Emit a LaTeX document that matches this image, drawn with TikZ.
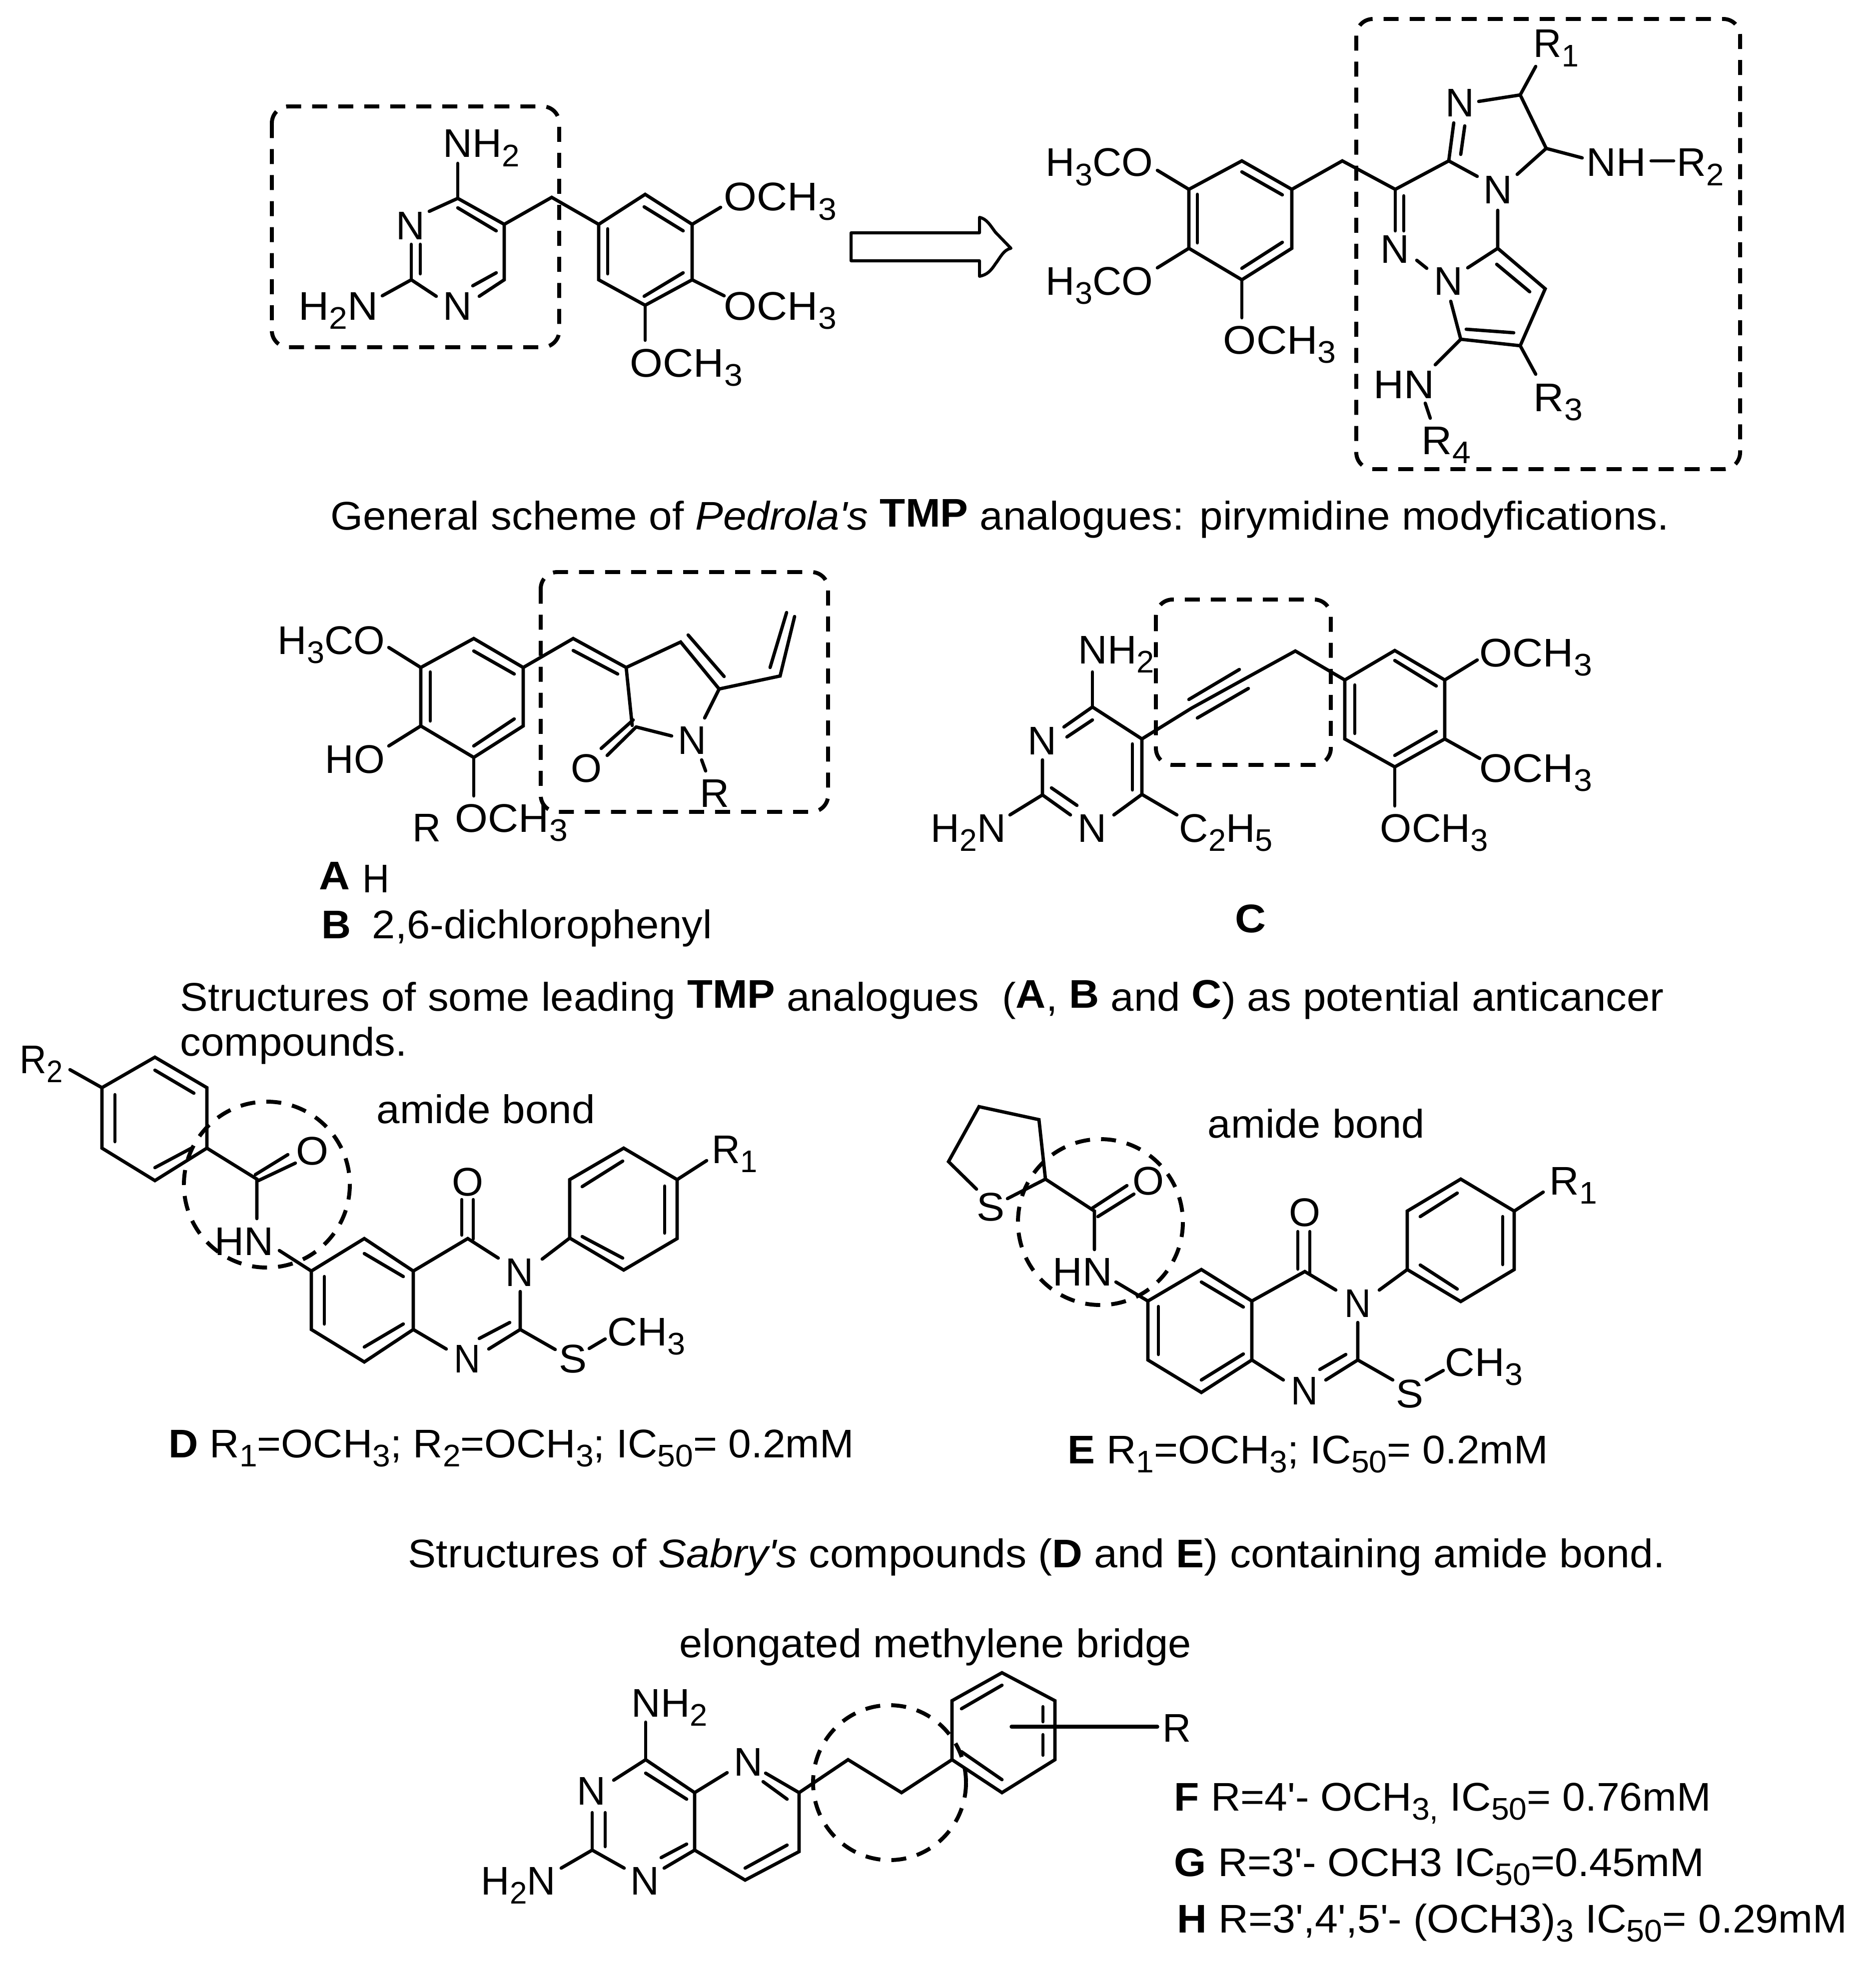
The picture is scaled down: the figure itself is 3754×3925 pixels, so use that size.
\documentclass[tikz,border=0pt]{standalone}
\usepackage{fontspec}
\usepackage{graphicx}
\setmainfont[Ligatures=TeXOff]{Liberation Sans}
\newsavebox\fwbox
\newcommand\fw[2]{\sbox\fwbox{#2}\pgfmathsetmacro\fwf{(#1)*0.24/\the\wd\fwbox}\scalebox{\fwf}[1]{\usebox\fwbox}}
\newcommand\sbs[1]{\raisebox{-4.5pt}{\fontsize{15}{15}\selectfont #1}}
\newcommand\up[1]{\raisebox{1.4pt}{\textbf{#1}}}
% name, left ink x, baseline y, ink width, text
\newcommand\lab[5]{\node[lb] (#1) at ({#2-5},{#3}) {\fw{#4+10}{#5}};}
% name, centre x, baseline y, text
\newcommand\clab[4]{\node[clb] (#1) at (#2,#3) {#4};}
\tikzset{
  lb/.style={anchor=base west,inner sep=0pt,font=\fontsize{19.2}{22}\selectfont},
  clb/.style={anchor=base,inner sep=0pt,font=\fontsize{19.2}{22}\selectfont},
  bond/.style={line width=1.6pt,line cap=round,line join=miter,draw=black},
  dbox/.style={line width=1.9pt,draw=black,dash pattern=on 7.2pt off 5.3pt,rounded corners=8pt},
  dring/.style={line width=1.9pt,draw=black,dash pattern=on 7.2pt off 5.3pt},
  hollow/.style={line width=1.45pt,draw=black,fill=white,line join=round}
}
\begin{document}
\begin{tikzpicture}[x=0.24pt,y=-0.24pt]
\useasboundingbox (0,0) rectangle (3754,3925);
\fill[white] (0,0) rectangle (3754,3925);

%% ---------- Molecule 1 (trimethoprim)
\foreach \n/\x/\y in {Tc4/916/397,Tc5/1009/449,Tc6/1009/560,Tc2/823/560,Tm/1104/395,Tr1/1198/449,Tr2/1291/389,Tr3/1385/449,Tr4/1385/560,Tr5/1291/611,Tr6/1198/560}
  \coordinate (\n) at (\x,\y);
\lab{Tnh}{891}{315}{143}{NH\sbs{2}}
\clab{Tn3}{821}{479}{N}
\clab{Tn1}{915}{640}{N}
\lab{Th2n}{602}{640}{149}{H\sbs{2}N}
\lab{To1}{1453}{422}{215}{OCH\sbs{3}}
\lab{To2}{1453}{640}{215}{OCH\sbs{3}}
\lab{To3}{1265}{754}{215}{OCH\sbs{3}}
\draw[bond] (Tc4)--(916,327);
\draw[bond] (Tc4)--(859,423);
\draw[bond] (Tc4)--(Tc5)--(Tc6)--(959,593);
\draw[bond] (916,416)--(993,462);
\draw[bond] (993,546)--(946,572);
\draw[bond] (Tc2)--(873,593);
\draw[bond] (Tc2)--(823,489);
\draw[bond] (841,548)--(841,489);
\draw[bond] (Tc2)--(765,592);
\draw[bond] (Tr1)--(Tr2)--(Tr3)--(Tr4)--(Tr5)--(Tr6)--cycle;
\draw[bond] (Tc5)--(Tm)--(Tr1);
\draw[bond] (1216,458)--(1216,548);
\draw[bond] (1289,414)--(1367,462);
\draw[bond] (1367,546)--(1289,593);
\draw[bond] (Tr3)--(1442,415);
\draw[bond] (Tr4)--(1449,592);
\draw[bond] (Tr5)--(1291,681);
\draw[dbox] (544,213) rectangle (1119,695);

%% ---------- Block arrow
\draw[hollow] (1703,466)--(1960,466)--(1960,435) .. controls (1975,438) and (1982,452) .. (1992,465)--(2023,497) .. controls (2008,500) and (2002,515) .. (1992,528) .. controls (1982,543) and (1975,550) .. (1960,553)--(1960,522)--(1703,522)--cycle;

%% ---------- Molecule 2 (Pedrola)
\foreach \n/\x/\y in {Pr1/2379/379,Pr2/2485/322,Pr3/2585/379,Pr4/2585/497,Pr5/2485/560,Pr6/2379/497,Pm/2686/322,Pc/2792/379,Pd/2899/322,Pe/3042/190,Pf/3094/297,Pg/2997/497,Ph/3092/578,Pi/3042/692,Pj/2923/679}
  \coordinate (\n) at (\x,\y);
\lab{Po1}{2097}{353}{204}{H\sbs{3}CO}
\lab{Po2}{2097}{590}{204}{H\sbs{3}CO}
\lab{Po3}{2452}{708}{216}{OCH\sbs{3}}
\clab{Pn1}{2791}{527}{N}
\clab{Pn2}{2898}{590}{N}
\clab{Pn3}{2921}{234}{N}
\clab{Pn4}{2997}{408}{N}
\lab{Pr1l}{3073}{115}{80}{R\sbs{1}}
\lab{Pnh}{3179}{353}{109}{NH}
\lab{Pr2l}{3360}{353}{84}{R\sbs{2}}
\lab{Phn}{2753}{797}{112}{HN}
\lab{Pr4l}{2849}{909}{88}{R\sbs{4}}
\lab{Pr3l}{3073}{823}{88}{R\sbs{3}}
\draw[bond] (Pr1)--(Pr2)--(Pr3)--(Pr4)--(Pr5)--(Pr6)--cycle;
\draw[bond] (2396,389)--(2396,486);
\draw[bond] (2485,344)--(2566,390);
\draw[bond] (2566,485)--(2485,537);
\draw[bond] (Pr1)--(2316,341);
\draw[bond] (Pr6)--(2316,536);
\draw[bond] (Pr5)--(2485,636);
\draw[bond] (Pr3)--(Pm)--(Pc)--(Pd);
\draw[bond] (Pc)--(2792,462);
\draw[bond] (2809,392)--(2809,462);
\draw[bond] (2835,521)--(2855,537);
\draw[bond] (Pd)--(2909,246);
\draw[bond] (2923,309)--(2931,252);
\draw[bond] (Pd)--(2956,353);
\draw[bond] (2959,203)--(Pe)--(Pf)--(3036,349);
\draw[bond] (Pe)--(3073,133);
\draw[bond] (Pf)--(3166,316);
\draw[bond] (3304,322)--(3349,322);
\draw[bond] (2997,421)--(Pg)--(Ph)--(Pi)--(Pj)--(2903,603);
\draw[bond] (Pg)--(2937,536);
\draw[bond] (2995,529)--(3061,584);
\draw[bond] (3029,666)--(2934,659);
\draw[bond] (Pj)--(2872,730);
\draw[bond] (2852,807)--(2862,837);
\draw[bond] (Pi)--(3073,749);
\draw[dbox] (2714,38) rectangle (3482,939);

%% ---------- Caption 1
\lab{cap1}{666}{1060}{2668}{General scheme of \textit{Pedrola's} \up{TMP} analogues: pirymidine modyfications.}

%% ---------- Molecule A/B
\foreach \n/\x/\y in {Ar1/842/1336,Ar2/948/1278,Ar3/1047/1336,Ar4/1047/1453,Ar5/948/1516,Ar6/842/1453,Am/1147/1278,Aa/1253/1336,Ab/1362/1285,Ac/1439/1379,Ad/1265/1452,Ae/1561/1353,Ax/1273/1455}
  \coordinate (\n) at (\x,\y);
\lab{Ao1}{560}{1309}{204}{H\sbs{3}CO}
\lab{Ao2}{655}{1547}{109}{HO}
\lab{Ao3}{915}{1665}{215}{OCH\sbs{3}}
\lab{Arl}{830}{1684}{47}{R}
\lab{Aoo}{1147}{1565}{52}{O}
\lab{Ann}{1361}{1509}{47}{N}
\lab{Arr}{1405}{1615}{49}{R}
\lab{la}{643}{1780}{52}{\textbf{A}}
\lab{lah}{730}{1786}{44}{H}
\lab{lb}{648}{1878}{49}{\textbf{B}}
\lab{lbn}{749}{1878}{670}{2,6-dichlorophenyl}
\draw[bond] (Ar1)--(Ar2)--(Ar3)--(Ar4)--(Ar5)--(Ar6)--cycle;
\draw[bond] (861,1345)--(861,1443);
\draw[bond] (948,1303)--(1029,1349);
\draw[bond] (1029,1439)--(948,1493);
\draw[bond] (Ar1)--(778,1296);
\draw[bond] (Ar6)--(778,1493);
\draw[bond] (Ar5)--(948,1593);
\draw[bond] (Ar3)--(Am)--(Aa)--(Ab)--(Ac);
\draw[bond] (1147,1302)--(1236,1349);
\draw[bond] (1377,1271)--(1449,1354);
\draw[bond] (Aa)--(Ad);
\draw[bond] (1267,1441)--(1203,1498);
\draw[bond] (Ax)--(1215,1512);
\draw[bond] (Ax)--(1344,1473);
\draw[bond] (Ac)--(1410,1437);
\draw[bond] (Ac)--(Ae)--(1590,1234);
\draw[bond] (1541,1336)--(1574,1226);
\draw[bond] (1404,1521)--(1412,1543);
\draw[dbox] (1082,1145) rectangle (1657,1625);

%% ---------- Molecule C
\foreach \n/\x/\y in {Cc4/2186/1415,Cc5/2285/1479,Cc6/2285/1590,Cc2/2086/1591,Ca/2385/1417,Cb/2492/1358,Cm/2592/1303,Cr1/2691/1361,Cr2/2791/1302,Cr3/2891/1361,Cr4/2891/1479,Cr5/2791/1535,Cr6/2691/1479}
  \coordinate (\n) at (\x,\y);
\lab{Cnh}{2162}{1328}{142}{NH\sbs{2}}
\clab{Cn3}{2085}{1510}{N}
\clab{Cn1}{2185}{1685}{N}
\lab{Ch2n}{1867}{1685}{140}{H\sbs{2}N}
\lab{Cet}{2364}{1685}{177}{C\sbs{2}H\sbs{5}}
\lab{Co1}{2965}{1334}{215}{OCH\sbs{3}}
\lab{Co2}{2965}{1565}{215}{OCH\sbs{3}}
\lab{Co3}{2766}{1685}{206}{OCH\sbs{3}}
\lab{lc}{2476}{1866}{52}{\textbf{C}}
\draw[bond] (Cc4)--(2186,1345);
\draw[bond] (Cc4)--(2129,1455);
\draw[bond] (2186,1441)--(2135,1475);
\draw[bond] (Cc4)--(Cc5)--(Cc6)--(2229,1631);
\draw[bond] (2266,1489)--(2266,1581);
\draw[bond] (Cc6)--(2355,1631);
\draw[bond] (2086,1521)--(Cc2)--(2142,1631);
\draw[bond] (2104,1577)--(2155,1612);
\draw[bond] (Cc2)--(2021,1631);
\draw[bond] (Cc5)--(Ca)--(Cb)--(Cm)--(Cr1);
\draw[bond] (2379,1400)--(2480,1340);
\draw[bond] (2396,1437)--(2498,1378);
\draw[bond] (Cr1)--(Cr2)--(Cr3)--(Cr4)--(Cr5)--(Cr6)--cycle;
\draw[bond] (2711,1371)--(2711,1468);
\draw[bond] (2791,1322)--(2874,1373);
\draw[bond] (2874,1464)--(2791,1512);
\draw[bond] (Cr3)--(2956,1321);
\draw[bond] (Cr4)--(2961,1518);
\draw[bond] (Cr5)--(2791,1613);
\draw[dbox] (2313,1200) rectangle (2663,1531);

%% ---------- Caption 2
\lab{cap2}{365}{2023}{2959}{Structures of some leading \up{TMP} analogues\ \ (\up{A}, \up{B} and \up{C}) as potential anticancer}
\lab{cap2b}{365}{2113}{444}{compounds.}

%% ---------- Molecule D
\foreach \n/\x/\y in {Da1/204/2177,Da2/310/2116,Da3/414/2177,Da4/414/2298,Da5/310/2363,Da6/204/2298,Dc/514/2360,Db1/623/2544,Db2/729/2479,Db3/827/2544,Db4/827/2661,Db5/729/2726,Db6/623/2661,Dq/936/2479,Dt/1041/2661,De1/1140/2478,De2/1140/2361,De3/1248/2298,De4/1355/2361,De5/1355/2479,De6/1248/2542}
  \coordinate (\n) at (\x,\y);
\lab{Drr2}{44}{2148}{76}{R\sbs{2}}
\lab{Do1}{597}{2331}{55}{O}
\lab{Dhn}{434}{2512}{108}{HN}
\lab{Do2}{909}{2393}{53}{O}
\lab{Dn3}{1016}{2574}{46}{N}
\lab{Dn1}{913}{2747}{43}{N}
\lab{Ds}{1123}{2747}{46}{S}
\lab{Dch}{1220}{2693}{146}{CH\sbs{3}}
\lab{Drr1}{1429}{2328}{81}{R\sbs{1}}
\lab{amD}{758}{2248}{427}{amide bond}
\lab{ld}{342}{2917}{1361}{\textbf{D} R\sbs{1}=OCH\sbs{3}; R\sbs{2}=OCH\sbs{3}; IC\sbs{50}= 0.2mM}
\draw[bond] (Da1)--(Da2)--(Da3)--(Da4)--(Da5)--(Da6)--cycle;
\draw[bond] (230,2191)--(230,2285);
\draw[bond] (310,2142)--(388,2188);
\draw[bond] (385,2297)--(310,2337);
\draw[bond] (Da1)--(140,2141);
\draw[bond] (Da4)--(Dc)--(514,2439);
\draw[bond] (511,2351)--(576,2311);
\draw[bond] (517,2363)--(591,2328);
\draw[bond] (559,2503)--(Db1);
\draw[bond] (Db1)--(Db2)--(Db3)--(Db4)--(Db5)--(Db6)--cycle;
\draw[bond] (649,2555)--(649,2650);
\draw[bond] (729,2509)--(807,2555);
\draw[bond] (807,2650)--(729,2696);
\draw[bond] (Db3)--(Dq)--(997,2518);
\draw[bond] (924,2472)--(924,2401);
\draw[bond] (947,2480)--(947,2401);
\draw[bond] (1041,2585)--(Dt)--(978,2700);
\draw[bond] (1020,2647)--(959,2679);
\draw[bond] (Db4)--(893,2700);
\draw[bond] (Dt)--(1111,2701);
\draw[bond] (1179,2699)--(1211,2680);
\draw[bond] (1085,2520)--(De1);
\draw[bond] (De1)--(De2)--(De3)--(De4)--(De5)--(De6)--cycle;
\draw[bond] (1165,2375)--(1246,2324);
\draw[bond] (1330,2374)--(1330,2468);
\draw[bond] (1246,2518)--(1165,2475);
\draw[bond] (De4)--(1414,2323);
\draw[dring] (534,2371) ellipse [x radius=166,y radius=166];

%% ---------- Molecule E
\foreach \n/\x/\y in {Ea/1898/2325,Eb/1959/2215,Ec/2079/2241,Ed/2092/2360,Ee/2190/2424,Eb1/2297/2604,Eb2/2404/2541,Eb3/2505/2604,Eb4/2505/2722,Eb5/2404/2787,Eb6/2297/2722,Eq/2611/2545,Et/2717/2722,Ef1/2816/2541,Ef2/2816/2424,Ef3/2923/2360,Ef4/3030/2424,Ef5/3030/2541,Ef6/2923/2605}
  \coordinate (\n) at (\x,\y);
\lab{Es1}{1959}{2443}{46}{S}
\lab{Eo1}{2271}{2391}{53}{O}
\lab{Ehn}{2111}{2573}{109}{HN}
\lab{Eo2}{2584}{2454}{53}{O}
\lab{En3}{2695}{2636}{43}{N}
\lab{En1}{2588}{2811}{44}{N}
\lab{Es2}{2798}{2817}{45}{S}
\lab{Ech}{2896}{2754}{145}{CH\sbs{3}}
\lab{Err}{3105}{2391}{85}{R\sbs{1}}
\lab{amE}{2421}{2277}{424}{amide bond}
\lab{le}{2141}{2929}{951}{\textbf{E} R\sbs{1}=OCH\sbs{3}; IC\sbs{50}= 0.2mM}
\draw[bond] (1954,2380)--(Ea)--(Eb)--(Ec)--(Ed)--(2016,2399);
\draw[bond] (Ed)--(Ee)--(2190,2501);
\draw[bond] (2186,2418)--(2255,2373);
\draw[bond] (2197,2435)--(2269,2390);
\draw[bond] (2233,2566)--(Eb1);
\draw[bond] (Eb1)--(Eb2)--(Eb3)--(Eb4)--(Eb5)--(Eb6)--cycle;
\draw[bond] (2318,2615)--(2318,2711);
\draw[bond] (2404,2566)--(2488,2616);
\draw[bond] (2488,2710)--(2404,2762);
\draw[bond] (Eb3)--(Eq)--(2673,2582);
\draw[bond] (2597,2540)--(2597,2465);
\draw[bond] (2621,2548)--(2621,2465);
\draw[bond] (2717,2647)--(Et)--(2653,2762);
\draw[bond] (2693,2711)--(2641,2741);
\draw[bond] (Eb4)--(2568,2762);
\draw[bond] (Et)--(2787,2762);
\draw[bond] (2854,2762)--(2888,2743);
\draw[bond] (2760,2582)--(Ef1);
\draw[bond] (Ef1)--(Ef2)--(Ef3)--(Ef4)--(Ef5)--(Ef6)--cycle;
\draw[bond] (2842,2435)--(2916,2388);
\draw[bond] (3007,2435)--(3007,2531);
\draw[bond] (2916,2580)--(2842,2532);
\draw[bond] (Ef4)--(3088,2386);
\draw[dring] (2202,2446) ellipse [x radius=165,y radius=166];

%% ---------- Caption 3
\lab{cap3}{821}{3137}{2505}{Structures of \textit{Sabry's} compounds (\textbf{D} and \textbf{E}) containing amide bond.}

%% ---------- Molecule F/G/H
\foreach \n/\x/\y in {Fc4/1292/3522,Fa/1390/3588,Fb/1599/3588,Fc/1599/3706,Fd/1491/3763,Fe/1390/3703,Fc2/1185/3703,Fm1/1697/3522,Fm2/1804/3588,Fr1/1905/3522,Fr2/1905/3404,Fr3/2005/3348,Fr4/2111/3404,Fr5/2111/3522,Fr6/2005/3588}
  \coordinate (\n) at (\x,\y);
\lab{Fbr}{1364}{3317}{1014}{elongated methylene bridge}
\lab{Fnh}{1268}{3436}{142}{NH\sbs{2}}
\clab{Fn3}{1183}{3612}{N}
\clab{Fn5}{1497}{3554}{N}
\clab{Fn1}{1290}{3792}{N}
\lab{Fh2n}{967}{3792}{139}{H\sbs{2}N}
\lab{Frr}{2331}{3486}{47}{R}
\draw[bond] (Fc4)--(1292,3447);
\draw[bond] (Fc4)--(1228,3563);
\draw[bond] (Fc4)--(Fa)--(1455,3548);
\draw[bond] (1292,3549)--(1374,3601);
\draw[bond] (1532,3549)--(Fb)--(Fc)--(Fd)--(Fe)--(Fa);
\draw[bond] (1527,3566)--(1575,3601);
\draw[bond] (1575,3693)--(1491,3739);
\draw[bond] (Fe)--(1329,3739);
\draw[bond] (1374,3691)--(1323,3718);
\draw[bond] (Fc2)--(1249,3739);
\draw[bond] (Fc2)--(1185,3628);
\draw[bond] (1211,3696)--(1211,3628);
\draw[bond] (Fc2)--(1123,3739);
\draw[bond] (Fb)--(Fm1)--(Fm2)--(Fr1);
\draw[bond] (Fr1)--(Fr2)--(Fr3)--(Fr4)--(Fr5)--(Fr6)--cycle;
\draw[bond] (1924,3420)--(2005,3373);
\draw[bond] (2087,3416)--(2087,3446);
\draw[bond] (2087,3472)--(2087,3513);
\draw[bond] (2005,3562)--(1924,3506);
\draw[bond,line width=1.8pt] (2024,3456)--(2316,3456);
\draw[dring] (1780,3568) ellipse [x radius=153,y radius=155];
\lab{lf}{2354}{3624}{1064}{\textbf{F} R=4'- OCH\sbs{3,}\ IC\sbs{50}= 0.76mM}
\lab{lg}{2354}{3755}{1050}{\textbf{G} R=3'- OCH3 IC\sbs{50}=0.45mM}
\lab{lh}{2360}{3868}{1331}{\textbf{H} R=3',4',5'- (OCH3)\sbs{3} IC\sbs{50}= 0.29mM}
\end{tikzpicture}
\end{document}
